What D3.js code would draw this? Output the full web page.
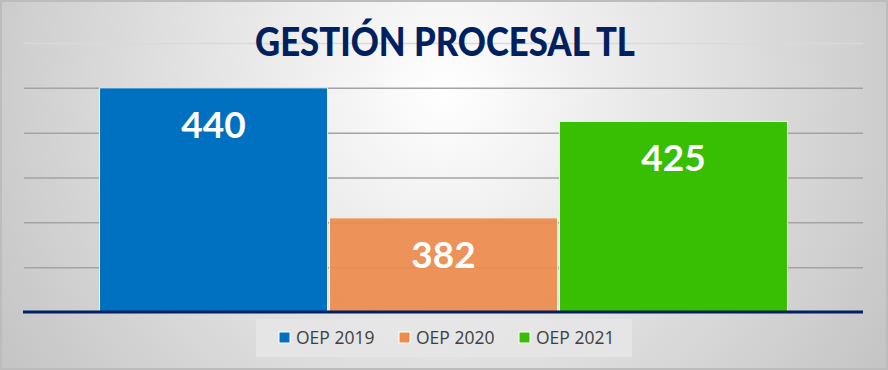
<!DOCTYPE html>
<html>
<head>
<meta charset="utf-8">
<script src="https://cdnjs.cloudflare.com/ajax/libs/d3/7.8.5/d3.min.js"></script>
<style>
  html, body { margin: 0; padding: 0; background: #ffffff; }
  svg { display: block; }
</style>
</head>
<body>
<div id="chart-area"></div>
<script>
const FIGURE = { WIDTH: 888, HEIGHT: 370 };
const PLOT = { LEFT: 24, RIGHT: 863, TOP: 43, BOTTOM: 312 };

const title = "GESTIÓN PROCESAL TL";
const series = ["OEP 2019", "OEP 2020", "OEP 2021"];
const values = [440, 382, 425];
const colors = ["#0070c0", "#ed8b4d", "#38bf04"];
const yTicks = [340, 360, 380, 400, 420, 440, 460];

const data = series.map((s, i) => ({ name: s, value: values[i], color: colors[i] }));

let x = d3.scaleBand()
    .domain(series)
    .range([PLOT.LEFT, PLOT.RIGHT])
    .paddingInner(0)
    .paddingOuter(0.324);

let y = d3.scaleLinear()
    .domain([d3.min(yTicks), d3.max(yTicks)])
    .range([PLOT.BOTTOM, PLOT.TOP]);

let svg = d3.select("#chart-area")
    .append("svg")
        .attr("width", FIGURE.WIDTH)
        .attr("height", FIGURE.HEIGHT);

// Background gradient
let grad = svg.append("defs")
    .append("radialGradient")
        .attr("id", "bg")
        .attr("gradientUnits", "userSpaceOnUse")
        .attr("cx", 444).attr("cy", 90).attr("r", 540);
grad.append("stop").attr("offset", "0").attr("stop-color", "#ffffff");
grad.append("stop").attr("offset", "1").attr("stop-color", "#c2c2c2");

svg.append("rect")
    .attr("x", 1).attr("y", 1)
    .attr("width", FIGURE.WIDTH - 2).attr("height", FIGURE.HEIGHT - 2)
    .attr("fill", "url(#bg)")
    .attr("stroke", "#bcbcbc")
    .attr("stroke-width", 2);

// Gridlines
let yAxis = d3.axisLeft(y)
    .tickValues(yTicks.slice(1))
    .tickSize(-(PLOT.RIGHT - PLOT.LEFT))
    .tickFormat("");

let grid = svg.append("g")
    .attr("class", "grid")
    .attr("transform", `translate(${PLOT.LEFT}, 0)`)
    .call(yAxis);
grid.select(".domain").remove();
grid.selectAll(".tick line")
    .attr("stroke", d => d === d3.max(yTicks) ? "#d9d9d9" : "#a3a3a3")
    .attr("stroke-width", 1.5);

// Bars
svg.selectAll("rect.bar")
    .data(data)
    .enter()
    .append("rect")
        .attr("class", "bar")
        .attr("x", d => x(d.name) + 1)
        .attr("y", d => y(d.value))
        .attr("width", x.bandwidth() - 2)
        .attr("height", d => y(d3.min(yTicks)) - y(d.value))
        .attr("fill", d => d.color)
        .attr("fill-opacity", (d, i) => i === 1 ? 0.93 : 1)
        .attr("stroke", "#eef2f6")
        .attr("stroke-width", 1);

// Baseline
svg.append("line")
    .attr("x1", PLOT.LEFT - 1).attr("x2", PLOT.RIGHT)
    .attr("y1", y(d3.min(yTicks))).attr("y2", y(d3.min(yTicks)))
    .attr("stroke", "#002060")
    .attr("stroke-width", 3);

// Value labels
svg.selectAll("text.value")
    .data(data)
    .enter()
    .append("text")
        .attr("class", "value")
        .attr("x", d => x(d.name) + x.bandwidth() / 2)
        .attr("y", d => y(d.value) + 50)
        .attr("text-anchor", "middle")
        .attr("font-family", "Lato, 'Open Sans', sans-serif")
        .attr("font-weight", "bold")
        .attr("font-size", 37)
        .attr("fill", "#ffffff")
        .text(d => d.value);

// Title
svg.append("text")
    .attr("x", 445)
    .attr("y", 56)
    .attr("text-anchor", "middle")
    .attr("font-family", "Lato, 'Open Sans', sans-serif")
    .attr("font-weight", "900")
    .attr("font-size", 39)
    .attr("fill", "#002060")
    .attr("textLength", 380)
    .attr("lengthAdjust", "spacingAndGlyphs")
    .text(title);

// Legend
let legend = svg.append("g").attr("class", "legend");
legend.append("rect")
    .attr("x", 256).attr("y", 319)
    .attr("width", 376).attr("height", 38)
    .attr("fill", "#e6e6e6")
    .attr("fill-opacity", 0.9);

let items = legend.selectAll("g.item")
    .data(data)
    .enter()
    .append("g")
        .attr("class", "item")
        .attr("transform", (d, i) => `translate(${279 + i * 120}, 332)`);
items.append("rect")
    .attr("width", 11).attr("height", 11)
    .attr("fill", d => d.color)
    .attr("stroke", "#ffffff")
    .attr("stroke-width", 1);
items.append("text")
    .attr("x", 17)
    .attr("y", 12)
    .attr("font-family", "'Open Sans', Lato, sans-serif")
    .attr("font-size", 17.5)
    .attr("fill", "#404040")
    .text(d => d.name);
</script>
</body>
</html>
